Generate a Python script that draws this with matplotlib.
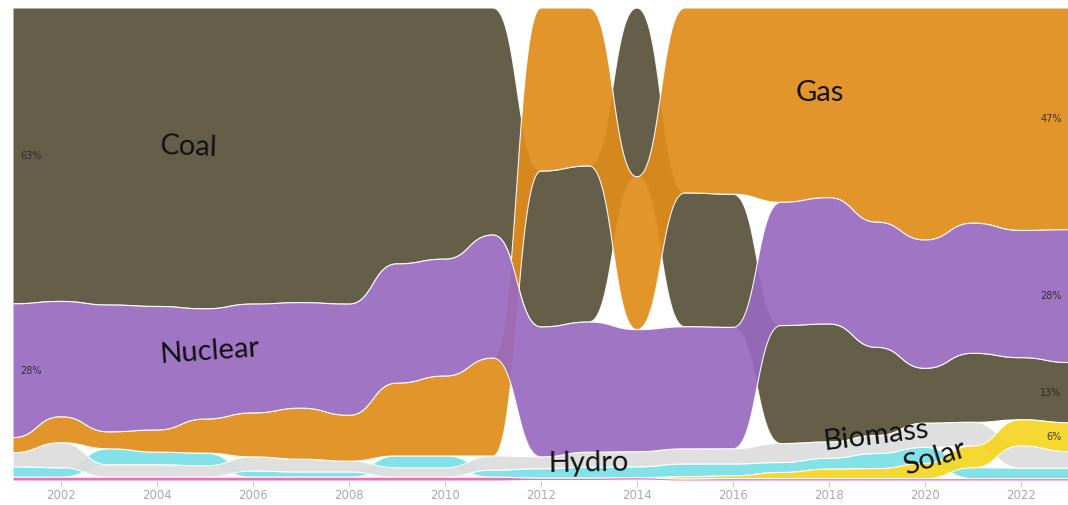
import matplotlib
matplotlib.use("Agg")
import matplotlib.pyplot as plt
import numpy as np

years = list(range(2001, 2024))

# share of generation, percent
coal = [62.6, 62.1, 62.8, 63.1, 63.6, 62.6, 62.3, 62.6, 54.1, 53.1, 48.0, 33.0,
        33.0, 35.7, 28.3, 28.1, 24.9, 24.9, 18.6, 11.6, 14.6, 13.1, 12.7]
gas = [3.2, 5.5, 3.6, 4.7, 7.2, 9.3, 10.8, 9.7, 15.4, 16.9, 20.7, 34.5,
       33.4, 32.3, 39.1, 39.3, 41.0, 40.0, 45.2, 49.0, 45.5, 46.9, 46.8]
nuclear = [28.3, 24.4, 26.8, 26.1, 23.3, 23.0, 22.3, 23.5, 25.2, 24.7, 26.0, 27.5,
           27.5, 25.8, 25.8, 25.6, 26.0, 26.6, 26.4, 27.1, 27.5, 26.8, 28.0]
biomass = [3.0, 5.3, 2.6, 2.6, 2.4, 3.0, 2.7, 2.3, 2.0, 2.0, 3.0, 2.5,
           3.2, 3.2, 3.2, 3.2, 4.0, 3.4, 3.8, 5.1, 5.0, 4.7, 3.5]
hydro = [2.2, 2.0, 3.4, 2.7, 2.7, 1.3, 1.1, 1.1, 2.5, 2.5, 1.5, 2.0,
         2.3, 2.3, 2.7, 2.5, 2.1, 2.3, 3.2, 3.4, 2.3, 2.2, 2.2]
solar = [0, 0, 0, 0, 0, 0, 0, 0, 0, 0, 0, 0.1,
         0.1, 0.2, 0.5, 0.6, 1.3, 2.0, 2.1, 3.2, 4.6, 5.5, 6.1]
other = [0.8, 0.8, 0.8, 0.8, 0.8, 0.8, 0.8, 0.8, 0.8, 0.8, 0.8, 0.5,
         0.5, 0.5, 0.4, 0.5, 0.5, 0.5, 0.5, 0.5, 0.5, 0.5, 0.5]

sources = ["Coal", "Gas", "Nuclear", "Biomass", "Hydro", "Solar", "Other"]
series = [coal, gas, nuclear, biomass, hydro, solar, other]
colors = ["#58513a", "#e08c19", "#9869be", "#dddddd", "#77e0e6", "#f6d520", "#e764b3"]
draw_order = ["Coal", "Hydro", "Biomass", "Gas", "Nuclear", "Solar", "Other"]

labels = {
    "Coal": (2004.65, 70.6, -2),
    "Nuclear": (2005.1, 27.3, 4),
    "Gas": (2017.8, 82.0, 0),
    "Hydro": (2012.98, 3.8, 1),
    "Biomass": (2018.98, 9.5, 7),
    "Solar": (2020.2, 4.9, 17),
}

vals = np.array(series, dtype=float)
vals = vals / vals.sum(axis=0) * 100

# rank stacking: biggest on top
tops = np.zeros_like(vals)
bots = np.zeros_like(vals)
for j in range(len(years)):
    order = np.argsort(-vals[:, j], kind="stable")
    y = 100.0
    for i in order:
        tops[i, j] = y
        y -= vals[i, j]
        bots[i, j] = y


def bump(xs, ys, n=40):
    # same as d3 curveBumpX
    t = np.linspace(0, 1, n)
    bx = 1.5 * t - 1.5 * t**2 + t**3
    by = 3 * t**2 - 2 * t**3
    ox, oy = [], []
    for i in range(len(xs) - 1):
        ox.append(xs[i] + (xs[i + 1] - xs[i]) * bx)
        oy.append(ys[i] + (ys[i + 1] - ys[i]) * by)
    return np.concatenate(ox), np.concatenate(oy)


fig = plt.figure(figsize=(10.68, 5.05), dpi=100)
ax = fig.add_axes([13 / 1068, 24 / 505, 1056 / 1068, 473 / 505])

xs = np.array(years, dtype=float)
for name in draw_order:
    k = sources.index(name)
    tx, ty = bump(xs, tops[k])
    bx, by = bump(xs, bots[k])
    ax.fill(np.r_[tx, bx[::-1]], np.r_[ty, by[::-1]], color=colors[k],
            alpha=0.92, ec=(1, 1, 1, 0.5), lw=0.8)

# percent labels at both ends
for k in range(len(sources)):
    for j, xpos, ha in [(0, years[0] + 0.15, "left"), (-1, years[-1] - 0.15, "right")]:
        if vals[k, j] >= 5:
            ax.text(xpos, (tops[k, j] + bots[k, j]) / 2, f"{vals[k, j]:.0f}%",
                    ha=ha, va="center", fontsize=7, color="#222222", alpha=0.85)

for name, (lx, ly, rot) in labels.items():
    ax.text(lx, ly, name, ha="center", va="center", fontsize=21, family="Lato",
            color="#111111", rotation=rot, rotation_mode="anchor")

ax.set_xlim(years[0], years[-1])
ax.set_ylim(0, 100)
ax.set_xticks(years[1::2])
ax.tick_params(axis="x", length=4, color="#cccccc", labelcolor="#aaaaaa",
               labelsize=8.5, pad=2)
ax.set_yticks([])
for s in ax.spines.values():
    s.set_visible(False)

fig.savefig("out.png", dpi=100)
